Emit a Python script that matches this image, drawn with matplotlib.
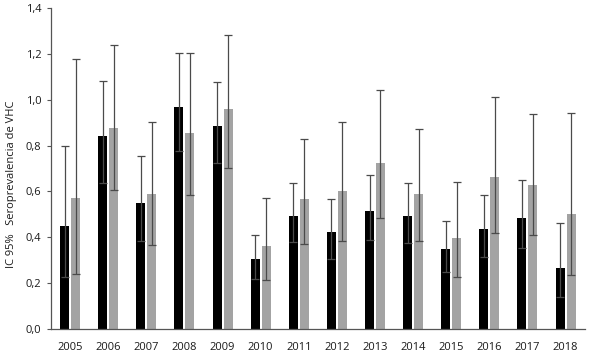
import numpy as np
import matplotlib
matplotlib.use("Agg")
from matplotlib import pyplot as plt

years = ["2005", "2006", "2007", "2008", "2009", "2010", "2011",
         "2012", "2013", "2014", "2015", "2016", "2017", "2018"]

# serie negra
black_val = [0.45, 0.84, 0.55, 0.967, 0.887, 0.306, 0.495, 0.421, 0.515, 0.491, 0.347, 0.436, 0.485, 0.267]
black_low = [0.229, 0.636, 0.386, 0.778, 0.726, 0.218, 0.379, 0.305, 0.388, 0.375, 0.25, 0.314, 0.354, 0.141]
black_up = [0.797, 1.082, 0.756, 1.203, 1.076, 0.412, 0.637, 0.568, 0.672, 0.637, 0.473, 0.586, 0.648, 0.464]

# serie gris
gray_val = [0.571, 0.878, 0.59, 0.854, 0.959, 0.362, 0.565, 0.6, 0.723, 0.59, 0.397, 0.664, 0.629, 0.501]
gray_low = [0.24, 0.607, 0.367, 0.585, 0.704, 0.213, 0.369, 0.385, 0.486, 0.386, 0.225, 0.418, 0.408, 0.237]
gray_up = [1.176, 1.24, 0.902, 1.205, 1.281, 0.572, 0.83, 0.902, 1.041, 0.871, 0.642, 1.011, 0.937, 0.944]

plt.rcParams['font.family'] = ['Open Sans', 'DejaVu Sans']

fig = plt.figure(figsize=(5.89, 3.56), dpi=100)
ax = fig.add_axes([0.0866, 0.0758, 0.906, 0.9017])

x = np.arange(len(years))
w = 0.236
off = 0.144

bv = np.array(black_val)
gv = np.array(gray_val)
ax.bar(x - off, bv, w, color="black", zorder=2)
ax.bar(x + off, gv, w, color="#a3a3a3", zorder=2)

ax.errorbar(x - off, bv, yerr=[bv - np.array(black_low), np.array(black_up) - bv],
            fmt="none", ecolor="#4a4a4a", elinewidth=0.9, capsize=3, capthick=0.9, zorder=3)
ax.errorbar(x + off, gv, yerr=[gv - np.array(gray_low), np.array(gray_up) - gv],
            fmt="none", ecolor="#4a4a4a", elinewidth=0.9, capsize=3, capthick=0.9, zorder=3)

ax.set_xlim(-0.5, 13.5)
ax.set_ylim(0, 1.4)
ax.set_yticks(np.arange(0, 1.41, 0.2))
ax.set_yticklabels([f"{v:.1f}".replace(".", ",") for v in np.arange(0, 1.41, 0.2)])
ax.set_xticks(x)
ax.set_xticklabels(years)

for s in ["top", "right"]:
    ax.spines[s].set_visible(False)
for s in ["left", "bottom"]:
    ax.spines[s].set_color("#555555")
    ax.spines[s].set_linewidth(0.9)

ax.tick_params(axis="x", length=0, pad=9, labelsize=8, colors="#1a1a1a")
ax.tick_params(axis="y", length=3, width=0.8, color="#555555", labelsize=8,
               labelcolor="#1a1a1a", pad=4)

ax.set_ylabel("IC 95%   Seroprevalencia de VHC", fontsize=8, color="#1a1a1a")
ax.yaxis.set_label_coords(-0.064, 0.45)

fig.savefig("out.png", dpi=100)
